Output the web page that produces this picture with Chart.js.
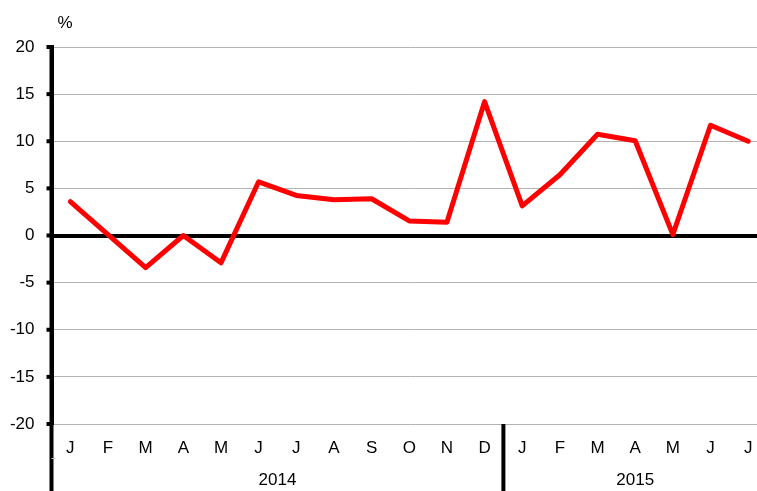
<!DOCTYPE html>
<html>
<head>
<meta charset="utf-8">
<script src="https://cdn.jsdelivr.net/npm/chart.js@4/dist/chart.umd.min.js"></script>
<style>
  html, body { margin: 0; padding: 0; overflow: hidden; background: #fff; }
  #wrap { width: 770px; height: 491px; position: relative; }
</style>
</head>
<body>
<div id="wrap"><canvas id="c" width="770" height="491"></canvas></div>
<script>
const months = ['J','F','M','A','M','J','J','A','S','O','N','D','J','F','M','A','M','J','J'];
const years = ['2014', '2015'];
const yearSpans = [12, 7];
const values = [3.6, 0.1, -3.4, 0.0, -2.9, 5.7, 4.25, 3.8, 3.9, 1.55, 1.4, 14.2, 3.15, 6.45, 10.75, 10.05, 0.1, 11.7, 10.0];
const yTicks = [20, 15, 10, 5, 0, -5, -10, -15, -20];
const unitLabel = '%';

const FONT = 'Liberation Sans, Arial, sans-serif';
const FS = 17;

const extras = {
  id: 'extras',
  afterDraw(chart) {
    const ctx = chart.ctx;
    const ca = chart.chartArea;
    const x = chart.scales.x, y = chart.scales.y;
    ctx.save();
    ctx.fillStyle = '#000';
    ctx.font = FS + 'px ' + FONT;
    ctx.textAlign = 'center';
    ctx.textBaseline = 'middle';
    ctx.fillText(unitLabel, 65, 23);
    yTicks.forEach(v => {
      const py = y.getPixelForValue(v);
      ctx.fillRect(ca.left - 5, py - 2, 5, 4);
    });
    ctx.fillRect(ca.left - 2, ca.top - 2, 4, chart.height - ca.top + 2);
    let start = 0;
    const w = x.getPixelForValue(1) - x.getPixelForValue(0);
    years.forEach((yr, i) => {
      const end = start + yearSpans[i];
      const l = x.getPixelForValue(start) - w / 2;
      const r = x.getPixelForValue(end - 1) + w / 2;
      ctx.fillStyle = '#000';
      ctx.textAlign = 'center';
      ctx.textBaseline = 'middle';
      ctx.font = FS + 'px ' + FONT;
      ctx.fillText(yr, (l + r) / 2, 480);
      if (i > 0) {
        ctx.fillRect(l - 2, ca.bottom, 4, chart.height - ca.bottom);
      }
      start = end;
    });
    ctx.fillStyle = '#c0c0c0';
    ctx.fillRect(ca.left, 458, 4, 1);
    ctx.restore();
  }
};

new Chart(document.getElementById('c'), {
  type: 'line',
  data: {
    labels: months,
    datasets: [{
      data: values,
      borderColor: '#ff0000',
      borderWidth: 5,
      pointRadius: 0,
      pointHoverRadius: 0,
      tension: 0,
      borderJoinStyle: 'round',
      borderCapStyle: 'round',
      fill: false
    }]
  },
  options: {
    responsive: false,
    animation: false,
    events: [],
    layout: { padding: { top: 47, right: 3, left: 0, bottom: 0 } },
    plugins: { legend: { display: false }, tooltip: { enabled: false } },
    scales: {
      x: {
        type: 'category',
        offset: true,
        grid: { display: false, drawTicks: false },
        border: { display: false },
        ticks: {
          color: '#000',
          font: { family: FONT, size: FS },
          padding: 14,
          maxRotation: 0,
          autoSkip: false
        },
        afterFit(s) { s.height = 67; }
      },
      y: {
        min: -20,
        max: 20,
        afterBuildTicks(s) { s.ticks = yTicks.map(v => ({ value: v })); },
        grid: {
          drawTicks: false,
          color: c => c.tick && c.tick.value === 0 ? '#000' : '#b3b3b3',
          lineWidth: c => c.tick && c.tick.value === 0 ? 4 : 1
        },
        border: { display: true, color: '#000', width: 4 },
        ticks: {
          color: '#000',
          font: { family: FONT, size: FS },
          padding: 17,
          stepSize: 5
        },
        afterFit(s) { s.width = 51.5; }
      }
    }
  },
  plugins: [extras]
});
</script>
</body>
</html>
